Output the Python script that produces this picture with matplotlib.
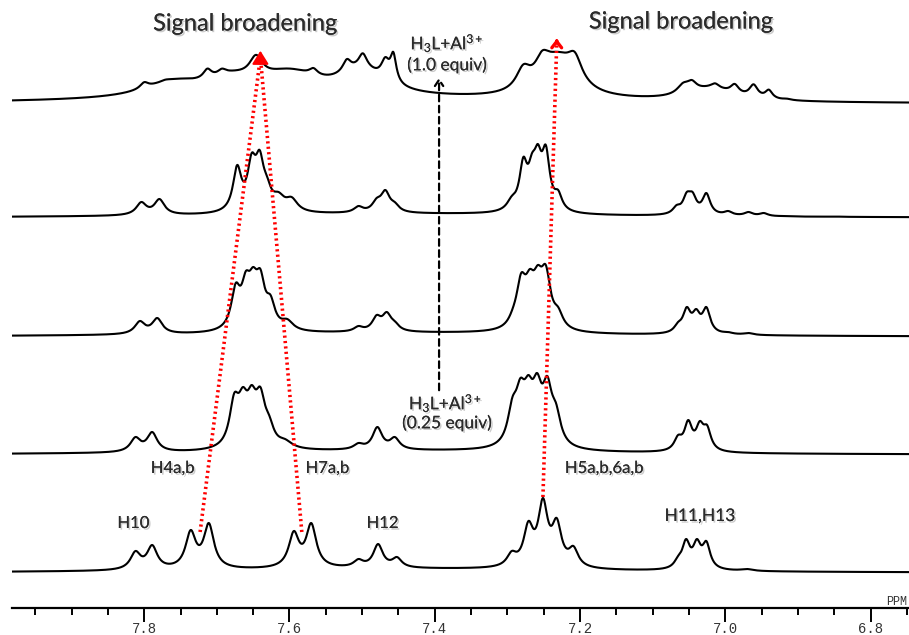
import numpy as np
import matplotlib
matplotlib.use("Agg")
import matplotlib.pyplot as plt
import matplotlib.patheffects as pe

plt.rcParams["mathtext.fontset"] = "custom"
plt.rcParams["mathtext.rm"] = "Lato"
plt.rcParams["mathtext.it"] = "Lato:italic"
plt.rcParams["mathtext.bf"] = "Lato:bold"

# ---- spectra: line centres (ppm), half-widths (ppm), intensities at the maxima ----
# 1) free ligand H3L
free_ppm = [7.812, 7.789, 7.736, 7.711, 7.594, 7.570, 7.505, 7.478, 7.452,
            7.294, 7.271, 7.251, 7.232, 7.209, 7.065, 7.054, 7.039, 7.026, 6.970]
free_height = [22, 28, 43, 50, 42, 50, 14, 29, 16,
               22, 52, 75, 55, 27, 17, 34, 34, 32, 4]
free_width = [0.0085] * 4 + [0.0085] * 2 + [0.008] * 3 + [0.008] * 5 + [0.0065] * 4 + [0.01]
free_base = (7.45, 4.0, 0.35)

# 2) H3L + Al3+ (0.25 equiv)
q25_ppm = [7.812, 7.789, 7.676, 7.664, 7.652, 7.640, 7.628, 7.606, 7.505, 7.479, 7.455,
           7.293, 7.282, 7.271, 7.259, 7.245, 7.233, 7.065, 7.051, 7.035, 7.025]
q25_height = [18, 23, 62, 68, 70, 68, 40, 16, 12, 28, 18,
              58, 77, 80, 82, 79, 52, 20, 35, 34, 30]
q25_width = [0.0085] * 2 + [0.008] * 5 + [0.012] + [0.008] * 3 + \
            [0.008] * 6 + [0.0065] * 4
q25_base = (7.45, 4.0, 0.35)

# 3) H3L + Al3+ (0.5 equiv)
q50_ppm = [7.806, 7.782, 7.674, 7.660, 7.650, 7.640, 7.626, 7.603, 7.505, 7.480,
           7.466, 7.455, 7.292, 7.281, 7.269, 7.258, 7.247, 7.230, 7.065, 7.053, 7.040,
           7.026, 6.996, 6.968]
q50_height = [16, 19, 54, 66, 70, 68, 42, 18, 11, 22,
              25, 16, 30, 64, 68, 72, 72, 30, 15, 30, 28, 30, 5, 4]
q50_width = [0.0085] * 2 + [0.0075] * 5 + [0.01] + [0.0075] * 4 + [0.008] * 6 + \
            [0.0065] * 4 + [0.008] * 2
q50_base = (7.45, 4.0, 0.35)

# 4) H3L + Al3+ (0.75 equiv)
q75_ppm = [7.804, 7.779, 7.672, 7.652, 7.641, 7.631, 7.615, 7.597, 7.505, 7.480,
           7.468, 7.455, 7.294, 7.278, 7.266, 7.258, 7.247, 7.230, 7.067, 7.053,
           7.045, 7.026, 6.996, 6.968, 6.947, 6.922, 6.850, 6.820]
q75_height = [16, 19, 53, 65, 68, 42, 26, 21, 12, 20,
              28, 16, 22, 61, 65, 74, 73, 28, 13, 26, 26, 25, 7, 6, 5, 2, 1.5, 1]
q75_width = [0.0085] * 2 + [0.007] * 4 + [0.01] * 2 + [0.0075] * 4 + \
            [0.008] + [0.0065] * 5 + [0.0065] * 4 + [0.007] * 4 + [0.01] * 2
q75_base = (7.45, 4.0, 0.35)

# 5) H3L + Al3+ (1.0 equiv): broadened lines, fitted through points of the trace
q100_ppm = [7.800, 7.771, 7.713, 7.693, 7.646, 7.595, 7.567, 7.521, 7.499, 7.468,
            7.457, 7.278, 7.252, 7.207, 7.058, 7.046, 7.014, 6.987, 6.961, 6.940,
            6.915, 7.760, 7.680, 7.600, 7.500, 7.230, 7.020]
q100_width = [0.007, 0.007, 0.007, 0.007, 0.011, 0.007, 0.007, 0.007, 0.007, 0.007,
              0.005, 0.012, 0.012, 0.012, 0.01, 0.008, 0.007, 0.007, 0.007, 0.006,
              0.007, 0.05, 0.04, 0.05, 0.04, 0.03, 0.04]
q100_trace_ppm = [7.982, 7.861, 7.819, 7.798, 7.785, 7.771, 7.760, 7.744, 7.713, 7.705,
                  7.693, 7.680, 7.660, 7.646, 7.627, 7.613, 7.595, 7.581, 7.567, 7.551,
                  7.530, 7.521, 7.510, 7.499, 7.486, 7.468, 7.457, 7.443, 7.429, 7.400,
                  7.337, 7.300, 7.282, 7.269, 7.250, 7.222, 7.207, 7.182, 7.166, 7.141,
                  7.104, 7.077, 7.058, 7.046, 7.026, 7.014, 7.000, 6.987, 6.976, 6.961,
                  6.950, 6.940, 6.926, 6.915, 6.902, 6.850, 6.780]
q100_trace_height = [4, 5, 12, 22, 21, 25, 22, 29, 35, 33,
                     36, 29, 42, 47, 40, 32, 35, 33, 36, 30,
                     38, 44, 41, 51, 37, 47, 52, 22, 11, 10,
                     14, 22, 31, 44, 53, 47, 51, 32, 17, 7,
                     7, 12, 21, 24, 18, 21, 14, 20, 15, 19,
                     13, 14, 6, 6, 1, 0, 0]
q100_base = (7.55, 5.0, 0.35)

spectra = [
    (free_ppm, free_width, free_ppm, free_height, free_base),
    (q25_ppm, q25_width, q25_ppm, q25_height, q25_base),
    (q50_ppm, q50_width, q50_ppm, q50_height, q50_base),
    (q75_ppm, q75_width, q75_ppm, q75_height, q75_base),
    (q100_ppm, q100_width, q100_trace_ppm, q100_trace_height, q100_base),
]
stack_offsets = [35, 153, 271, 390, 504]

major_ticks = [7.8, 7.6, 7.4, 7.2, 7.0, 6.8]
tick_labels = ["7.8", "7.6", "7.4", "7.2", "7.0", "6.8"]


def lorentz(x, x0, w):
    return w ** 2 / ((x - x0) ** 2 + w ** 2)


def nnls(A, b, tol=1e-9, max_iter=1000):
    """Lawson-Hanson non-negative least squares."""
    n = A.shape[1]
    P = np.zeros(n, bool)
    xs = np.zeros(n)
    w = A.T @ (b - A @ xs)
    it = 0
    while (~P).any() and np.max(np.where(~P, w, -np.inf)) > tol and it < max_iter:
        P[np.argmax(np.where(~P, w, -np.inf))] = True
        while True:
            it += 1
            z = np.zeros(n)
            z[P] = np.linalg.lstsq(A[:, P], b, rcond=None)[0]
            if np.all(z[P] > 0):
                xs = z
                break
            mask = P & (z <= 0)
            alpha = np.min(xs[mask] / (xs[mask] - z[mask]))
            xs = xs + alpha * (z - xs)
            P &= xs > tol
            xs[~P] = 0
        w = A.T @ (b - A @ xs)
    return xs


def spectrum(x, centres, widths, pts_ppm, pts_height, base):
    centres = np.asarray(centres, float)
    widths = np.asarray(widths, float)
    pts_ppm = np.asarray(pts_ppm, float)
    pts_height = np.asarray(pts_height, float)
    bc, bh, bw = base
    A = lorentz(pts_ppm[:, None], centres[None, :], widths[None, :])
    amp = nnls(A, pts_height - bh * lorentz(pts_ppm, bc, bw))
    y = bh * lorentz(x, bc, bw)
    for a, p, w in zip(amp, centres, widths):
        y = y + a * lorentz(x, p, w)
    return y


fig = plt.figure(figsize=(9.09, 6.35), dpi=100)
W, H = 909, 635
ax = fig.add_axes([12 / W, 27 / H, 897 / W, 608 / H])
ax.set_xlim(7.982, 6.747)
ax.set_ylim(0, 608)

x = np.linspace(7.982, 6.747, 4000)
for (cen, wid, pp, ph, base), off in zip(spectra, stack_offsets):
    ax.plot(x, off + spectrum(x, cen, wid, pp, ph, base), color="black", lw=1.5,
            solid_joinstyle="round")

# axis styling
for s in ["top", "left", "right"]:
    ax.spines[s].set_visible(False)
ax.spines["bottom"].set_linewidth(1.6)
ax.set_yticks([])
ax.set_xticks(major_ticks)
ax.set_xticklabels(tick_labels, fontfamily="Liberation Mono", fontsize=10, color="#333333")
ax.set_xticks(np.arange(6.75, 7.99, 0.05), minor=True)
ax.tick_params(axis="x", which="major", direction="out", length=10, width=1.4, pad=0)
ax.tick_params(axis="x", which="minor", direction="out", length=5, width=1.4)
fig.text(907 / W, 1 - 602 / H, "PPM", ha="right", va="center",
         fontfamily="Liberation Mono", fontsize=8.5, color="#333333")

shadow = [pe.withSimplePatchShadow(offset=(1.2, -1.2), shadow_rgbFace="#999999", alpha=0.5), pe.Normal()]

# dotted red guides following the H4a,b / H7a,b pair and the H5a,b,6a,b line
red_dots = dict(color="#ff0000", lw=2.6, linestyle=(0, (0.6, 0.9)), dash_capstyle="butt")
ax.plot([7.723, 7.640], [76, 551], **red_dots)
ax.plot([7.583, 7.640], [76, 551], **red_dots)
ax.annotate("", xy=(7.640, 560), xytext=(7.640, 548),
            arrowprops=dict(arrowstyle="-|>,head_length=0.8,head_width=0.5",
                            color="#ff0000", lw=1.5))
ax.plot([7.251, 7.232], [111, 565], **red_dots)
ax.annotate("", xy=(7.232, 572), xytext=(7.232, 562),
            arrowprops=dict(arrowstyle="->,head_length=0.45,head_width=0.35",
                            color="#ff0000", lw=2.4))

# dashed black arrow between the two titration labels
ax.annotate("", xy=(7.394, 533), xytext=(7.394, 215),
            arrowprops=dict(arrowstyle="->,head_length=0.45,head_width=0.3",
                            color="black", lw=1.6, linestyle=(0, (3, 2))))

lab = dict(fontfamily="Lato", color="#2b2b2b", ha="center", va="center", path_effects=shadow)
ax.text(7.661, 584, "Signal broadening", fontsize=17, **lab)
ax.text(7.061, 586, "Signal broadening", fontsize=17, **lab)
ax.text(7.383, 565, r"H$_3$L+$\mathrm{Al}^{3+}$", fontsize=12.5, **lab)
ax.text(7.383, 543, "(1.0 equiv)", fontsize=12.5, **lab)
ax.text(7.385, 205, r"H$_3$L+$\mathrm{Al}^{3+}$", fontsize=12.5, **lab)
ax.text(7.383, 185, "(0.25 equiv)", fontsize=12.5, **lab)

ax.text(7.815, 85, "H10", fontsize=12, **lab)
ax.text(7.472, 85, "H12", fontsize=12, **lab)
ax.text(7.035, 92, "H11,H13", fontsize=12.5, **lab)
ax.text(7.761, 140, "H4a,b", fontsize=12, **lab)
ax.text(7.548, 140, "H7a,b", fontsize=12, **lab)
ax.text(7.167, 140, "H5a,b,6a,b", fontsize=12, **lab)

fig.savefig("out.png", dpi=100, facecolor="white")
